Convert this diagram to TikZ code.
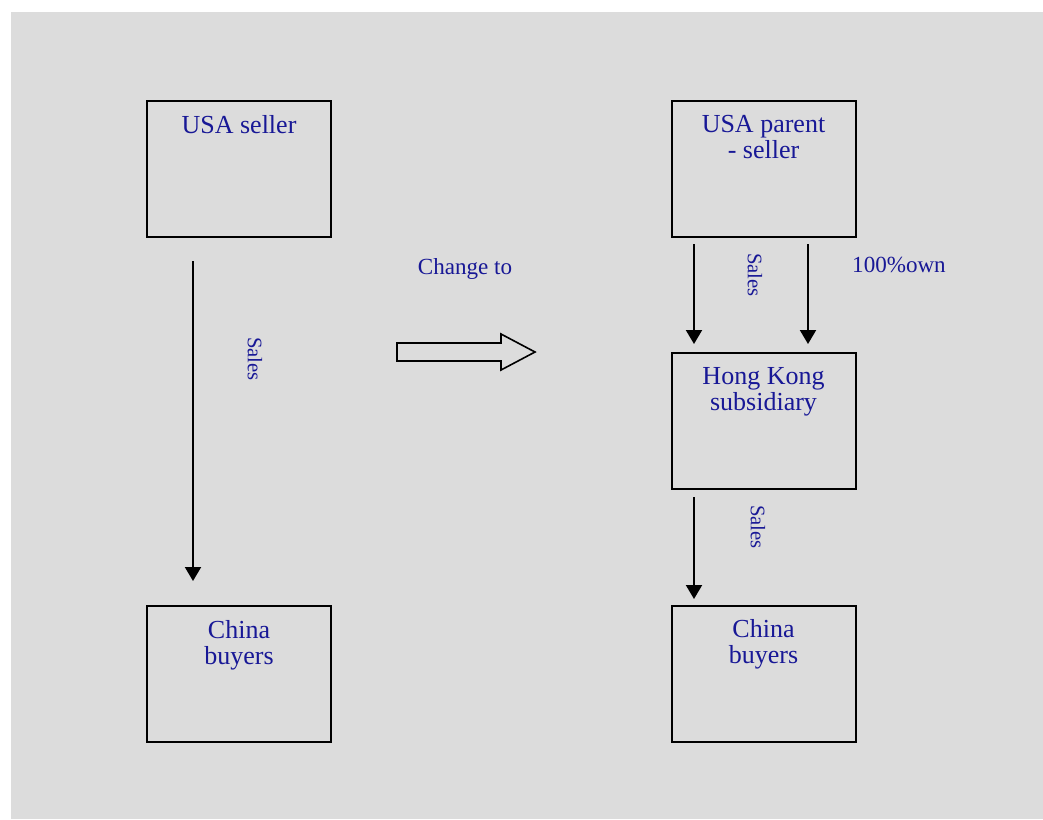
\documentclass[tikz,border=0pt]{standalone}
\usepackage{fontspec}
\setmainfont{Liberation Serif}
\usetikzlibrary{arrows.meta,calc}
\definecolor{bggrey}{RGB}{220,220,220}
\definecolor{navytext}{RGB}{24,24,150}
\tikzset{
  box/.style={draw=black, line width=1.5pt, fill=bggrey, minimum width=138pt, minimum height=102pt, inner sep=0pt},
  boxtext/.style={text=navytext, font=\fontsize{19.5pt}{19.5pt}\selectfont, align=center, inner sep=0pt, anchor=north},
  lbl/.style={text=navytext, font=\fontsize{17.3pt}{17.3pt}\selectfont, inner sep=0pt},
  saleslbl/.style={text=navytext, font=\fontsize{15.5pt}{15.5pt}\selectfont, inner sep=0pt, rotate=-90},
  flow/.style={draw=black, line width=1.5pt, -{Triangle[width=12pt,length=10.5pt]}},
  bigarrow/.style={draw=black, line width=1.2pt, fill=bggrey, line join=miter}
}
\begin{document}
\begin{tikzpicture}[x=0.75pt,y=-0.75pt]
\useasboundingbox (0,0) rectangle (1043,819);
\fill[bggrey] (11,12) rectangle (1043,819);

% left column
\node[box] (usa) at (239,169) {};
\node[boxtext] (usat) at ($(usa.north)+(0,15)$) {USA seller};
\node[box] (china1) at (239,674) {};
\node[boxtext] (china1t) at ($(china1.north)+(0,15)$) {China\\buyers};
\coordinate (l1s) at (193,261);
\coordinate (l1e) at (193,581);
\draw[flow] (l1s) -- (l1e);
\node[saleslbl] (sales1) at (255,359) {Sales};

% middle
\node[lbl, anchor=base] (chg) at (465,274) {Change to};
\draw[bigarrow] (397,343) -- (501,343) -- (501,334) -- (535,352) -- (501,370) -- (501,361) -- (397,361) -- cycle;

% right column
\node[box] (parent) at (763.5,169) {};
\node[boxtext] (parentt) at ($(parent.north)+(0,15)$) {USA parent\\- seller};
\node[box] (hk) at (763.5,421) {};
\node[boxtext] (hkt) at ($(hk.north)+(0,15.5)$) {Hong Kong\\subsidiary};
\node[box] (china2) at (763.5,673.5) {};
\node[boxtext] (china2t) at ($(china2.north)+(0,15)$) {China\\buyers};

\coordinate (r1s) at (694,244);
\coordinate (r1e) at (694,344);
\coordinate (r2s) at (808,244);
\coordinate (r2e) at (808,344);
\coordinate (r3s) at (694,497);
\coordinate (r3e) at (694,599);
\draw[flow] (r1s) -- (r1e);
\draw[flow] (r2s) -- (r2e);
\draw[flow] (r3s) -- (r3e);
\node[saleslbl] (sales2) at (755,275) {Sales};
\node[saleslbl] (sales3) at (758,527) {Sales};
\node[lbl, anchor=base] (own) at (899,272) {100\%own};
\end{tikzpicture}
\end{document}
